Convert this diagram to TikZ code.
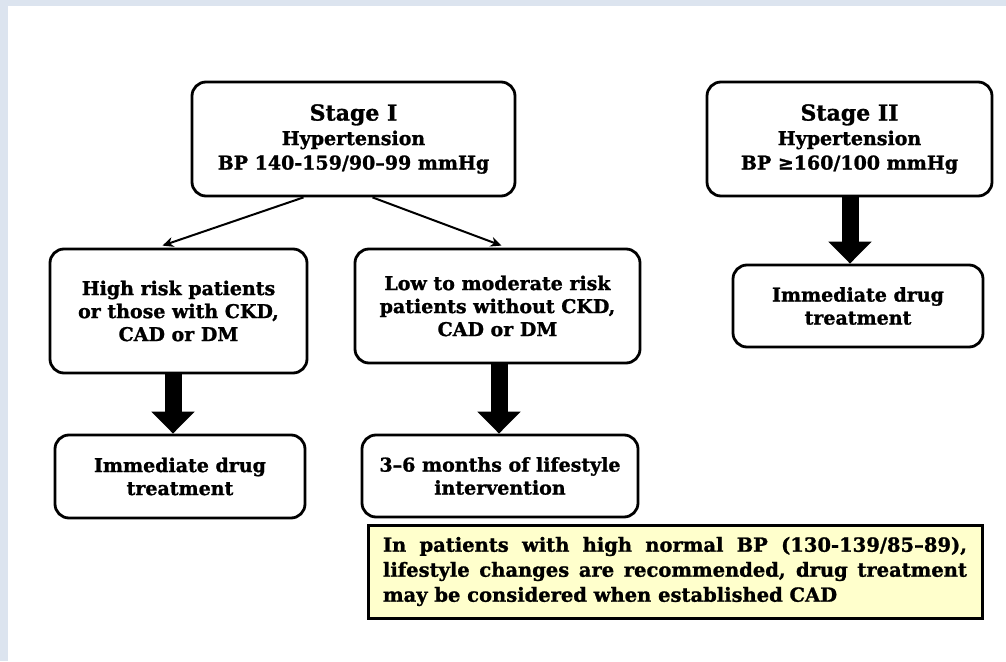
\documentclass[tikz,border=0pt]{standalone}
\usepackage{fontspec}
\setmainfont{DejaVu Serif}[BoldFeatures={FakeBold=1.2}]
\usetikzlibrary{arrows.meta,calc}
\definecolor{band}{HTML}{DCE4EF}
\definecolor{notefill}{HTML}{FFFFCC}
\begin{document}
\begin{tikzpicture}[x=1pt,y=-1pt,
  box/.style={draw=black, line width=2.8pt, rounded corners=14pt, fill=white,
    align=center, inner sep=0pt, font=\bfseries\fontsize{19}{23}\selectfont},
  titlebox/.style={box, font=\bfseries\fontsize{19}{24.5}\selectfont},
  thinarrow/.style={line width=2pt, -{Stealth[length=11pt,width=10pt]}},
  fatarrow/.style={line width=17pt, -{Triangle[length=22pt,width=42pt]}},
  notebox/.style={draw=black, line width=3pt, fill=notefill, align=justify,
    text width=584pt, inner xsep=15pt, inner ysep=0pt, minimum height=93pt,
    font=\bfseries\fontsize{19.5}{25}\selectfont}]

% page and frame band
\useasboundingbox (0,0) rectangle (1006,661);
\fill[white] (0,0) rectangle (1006,661);
\fill[band] (0,0) rectangle (1006,6);
\fill[band] (0,0) rectangle (8,661);

% stage boxes
\node[titlebox, minimum width=323pt, minimum height=114pt] (s1) at (353.5,139)
  {{\fontsize{22}{26}\selectfont Stage I}\\Hypertension\\BP 140-159/90–99 mmHg};
\node[titlebox, minimum width=285pt, minimum height=114pt] (s2) at (849.5,139)
  {{\fontsize{22}{26}\selectfont Stage II}\\Hypertension\\BP ≥160/100 mmHg};

% risk groups
\node[box, minimum width=257pt, minimum height=124pt] (high) at (178.5,311)
  {High risk patients\\or those with CKD,\\CAD or DM};
\node[box, minimum width=285pt, minimum height=114pt] (low) at (497.5,306)
  {Low to moderate risk\\patients without CKD,\\CAD or DM};

% outcomes
\node[box, minimum width=250pt, minimum height=83pt] (imL) at (180,476.5)
  {Immediate drug\\treatment};
\node[box, minimum width=276pt, minimum height=82pt] (life) at (500,476)
  {3–6 months of lifestyle\\intervention};
\node[box, minimum width=250pt, minimum height=82pt] (imR) at (858,306)
  {Immediate drug\\treatment};

% note
\node[notebox] (note) at (675,571.5)
  {In patients with high normal BP (130-139/85–89),\linebreak
   lifestyle changes are recommended, drug treatment\linebreak
   may be considered when established CAD};

% connectors
\draw[thinarrow] ($(s1.south)+(-50,0)$) -- ($(high.north)+(-16,-2)$);
\draw[thinarrow] ($(s1.south)+(19,0)$) -- ($(low.north)+(4,-2)$);

\coordinate (xL) at (173,0);
\coordinate (xM) at (499,0);
\coordinate (xR) at (850,0);
\draw[fatarrow] (high.south -| xL) -- (imL.north -| xL);
\draw[fatarrow] (low.south -| xM) -- (life.north -| xM);
\draw[fatarrow] (s2.south -| xR) -- (imR.north -| xR);
\end{tikzpicture}
\end{document}
